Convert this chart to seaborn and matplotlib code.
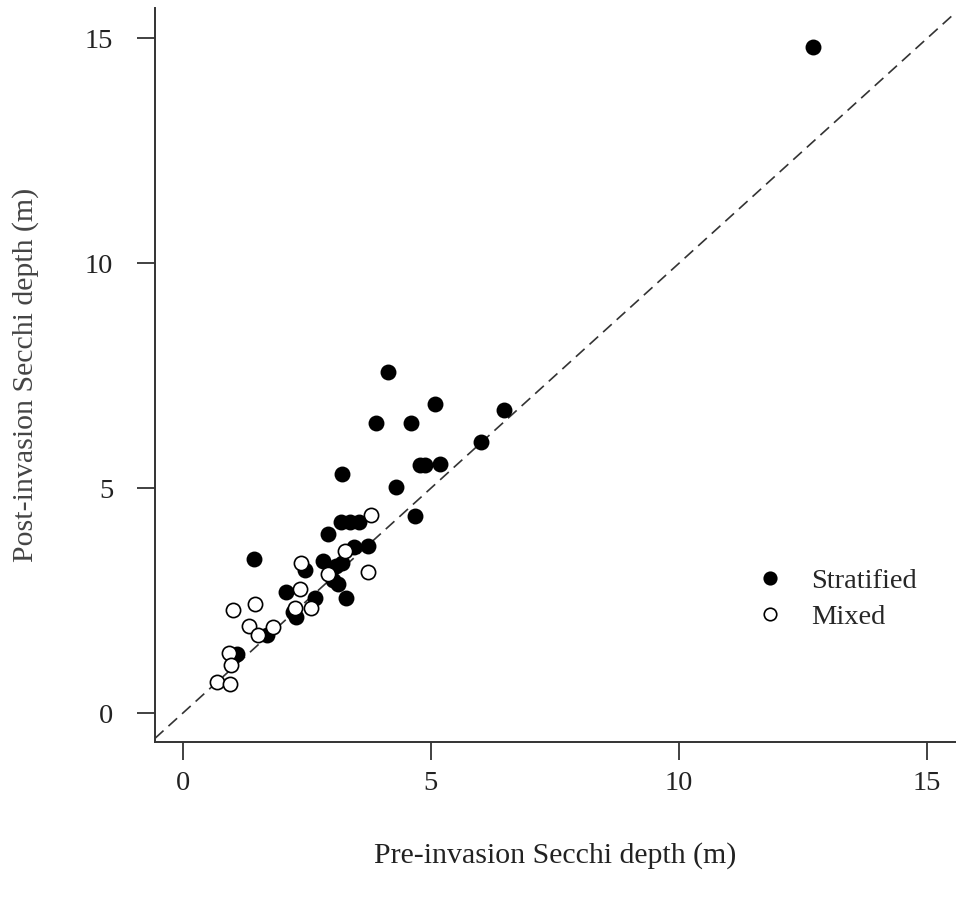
import numpy as np
import pandas as pd
import matplotlib
matplotlib.use("Agg")
import matplotlib.pyplot as plt
import seaborn as sns
from matplotlib.lines import Line2D

# Stratified lakes
strat_pre = [12.70, 4.13, 5.08, 3.89, 4.61, 6.47, 6.02, 4.78, 4.88, 5.18, 3.20, 4.29, 4.68,
             2.92, 3.19, 3.37, 3.55, 1.43, 3.74, 3.45, 2.83, 3.08, 3.20, 3.02, 3.13,
             3.29, 2.67, 2.08, 2.46, 2.29, 2.22, 1.69, 1.10]
strat_post = [14.80, 7.59, 6.88, 6.44, 6.44, 6.73, 6.03, 5.51, 5.51, 5.53, 5.31, 5.02, 4.38,
              3.99, 4.25, 4.25, 4.25, 3.42, 3.71, 3.70, 3.38, 3.28, 3.33, 2.96, 2.87,
              2.57, 2.57, 2.70, 3.19, 2.14, 2.25, 1.73, 1.31]
# Mixed lakes
mixed_pre = [3.80, 3.28, 2.39, 2.93, 3.74, 2.36, 2.59, 2.26, 1.45, 1.01, 1.34, 1.52,
             1.82, 0.93, 0.98, 0.70, 0.95]
mixed_post = [4.40, 3.60, 3.33, 3.09, 3.14, 2.75, 2.34, 2.33, 2.42, 2.29, 1.94, 1.73,
              1.92, 1.34, 1.07, 0.70, 0.64]

x_ticks = [0, 5, 10, 15]
y_ticks = [0, 5, 10, 15]

df = pd.DataFrame({
    "pre": strat_pre + mixed_pre,
    "post": strat_post + mixed_post,
    "type": ["Stratified"] * len(strat_pre) + ["Mixed"] * len(mixed_pre),
})

sns.set_style("white")
plt.rcParams["font.family"] = ["Liberation Serif", "DejaVu Serif"]

fig = plt.figure(figsize=(9.56, 8.99), dpi=100)
ax = fig.add_axes([0.162, 0.1746, 0.838, 0.8164])

ax.axline((0, 0), slope=1, color="#333333", lw=1.2, ls=(0, (7, 4)), zorder=1)

sns.scatterplot(data=df[df["type"] == "Stratified"], x="pre", y="post", ax=ax,
                color="black", edgecolor="black", s=105, linewidth=1.2,
                zorder=3, legend=False)
sns.scatterplot(data=df[df["type"] == "Mixed"], x="pre", y="post", ax=ax,
                facecolor="white", edgecolor="black", s=105, linewidth=1.2,
                zorder=3, legend=False)

ax.set_xlim(-0.56, 15.58)
ax.set_ylim(-0.64, 15.67)
ax.set_xticks(x_ticks)
ax.set_yticks(y_ticks)
ax.tick_params(axis="both", direction="out", length=13, width=1.3, color="#333333",
               labelsize=20.5, pad=8, labelcolor="#222222", bottom=True, left=True)
ax.tick_params(axis="y", pad=17)
for s in ["top", "right"]:
    ax.spines[s].set_visible(False)
for s in ["left", "bottom"]:
    ax.spines[s].set_color("#333333")
    ax.spines[s].set_linewidth(1.4)

ax.set_xlabel("Pre-invasion Secchi depth (m)", fontsize=21.5, color="#222222", labelpad=33)
ax.set_ylabel("Post-invasion Secchi depth (m)", fontsize=21.5, color="#444444", labelpad=33)

handles = [
    Line2D([], [], marker="o", ls="none", markersize=9, markerfacecolor="black",
           markeredgecolor="black", markeredgewidth=1.2),
    Line2D([], [], marker="o", ls="none", markersize=9, markerfacecolor="white",
           markeredgecolor="black", markeredgewidth=1.2),
]
ax.legend(handles, ["Stratified", "Mixed"], loc="upper left",
          bbox_to_anchor=(0.70, 0.272), frameon=False, fontsize=20.5,
          handletextpad=0.45, labelspacing=0.35)

fig.savefig("out.png", dpi=100)
